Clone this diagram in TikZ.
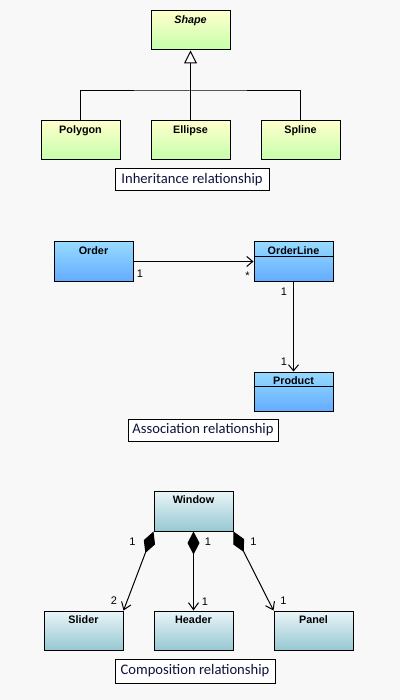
\documentclass[tikz,border=0pt]{standalone}
\usepackage{fontspec}
\setmainfont{Carlito}
\newfontfamily\umlfont{Liberation Sans}
\usetikzlibrary{arrows.meta,positioning}

\definecolor{pagebg}{RGB}{248,248,248}
\definecolor{greentop}{RGB}{255,255,204}
\definecolor{greenbot}{RGB}{196,255,170}
\definecolor{bluetop}{RGB}{150,218,255}
\definecolor{bluebot}{RGB}{100,172,255}
\definecolor{tealtop}{RGB}{234,245,248}
\definecolor{tealbot}{RGB}{150,200,210}
\definecolor{captext}{RGB}{15,20,60}

\tikzset{
  classbox/.style={draw, line width=1pt, minimum width=79pt, minimum height=39pt, inner sep=0pt},
  greenbox/.style={classbox, top color=greentop, bottom color=greenbot},
  bluebox/.style={classbox, top color=bluetop, bottom color=bluebot},
  tealbox/.style={classbox, top color=tealtop, bottom color=tealbot},
  classname/.style={font=\umlfont\bfseries\fontsize{10.8}{12}\selectfont, inner sep=0pt, anchor=north, yshift=-4.5pt},
  mult/.style={font=\umlfont\fontsize{11}{12}\selectfont, inner sep=0pt},
  caption/.style={draw, line width=0.8pt, fill=white, minimum height=22pt, inner sep=2pt, text=captext, font=\fontsize{14.6}{16}\selectfont},
  inherit/.style={line width=1pt, -{Triangle[length=13pt, width=13pt, fill=white]}},
  assoc/.style={line width=1pt, -{Straight Barb[length=6pt, width=10pt]}},
  compo/.style={line width=1pt, {Diamond[length=23pt, width=12pt]}-{Straight Barb[length=7pt, width=10pt]}}
}

\begin{document}
\begin{tikzpicture}[x=1pt, y=-1pt]
\fill[pagebg] (0,0) rectangle (400,700);
\useasboundingbox (0,0) rectangle (400,700);

% inheritance
\node[greenbox, name=shape] at (190.5,30.5) {};
\node[classname, name=shape_name] at (shape.north) {\itshape Shape};
\node[greenbox, name=polygon] at (80.5,140.5) {};
\node[classname, name=polygon_name] at (polygon.north) {Polygon};
\node[greenbox, name=ellipse] at (190.5,140.5) {};
\node[classname, name=ellipse_name] at (ellipse.north) {Ellipse};
\node[greenbox, name=spline] at (300.5,140.5) {};
\node[classname, name=spline_name] at (spline.north) {Spline};
\node[caption, minimum width=154pt, name=inherit_caption] at (192,179.5) {Inheritance relationship};

\coordinate (fork) at (190.5,91);
\draw[line width=1pt] (polygon.north) |- (fork) -| (spline.north);
\draw[inherit] (ellipse.north) -- (shape.south);

% association
\node[bluebox, name=order] at (93.5,261.5) {};
\node[classname, name=order_name] at (order.north) {Order};
\node[bluebox, name=orderline] at (293.5,261.5) {};
\node[classname, name=orderline_name] at (orderline.north) {OrderLine};
\draw[line width=1pt] ([yshift=-15pt]orderline.north west) -- ([yshift=-15pt]orderline.north east);
\node[bluebox, name=product] at (293.5,391.5) {};
\node[classname, name=product_name] at (product.north) {Product};
\draw[line width=1pt] ([yshift=-15pt]product.north west) -- ([yshift=-15pt]product.north east);
\node[caption, minimum width=150pt, name=assoc_caption] at (203,430) {Association relationship};

\draw[assoc] (order) -- (orderline);
\draw[assoc] (orderline) -- (product);
\node[mult, name=order_mult] at ([shift={(6.5,12.5)}]order.east) {1};
\node[mult, name=orderline_mult] at ([shift={(-6,14)}]orderline.west) {*};
\node[mult, name=orderline_mult2] at ([shift={(-9.5,10)}]orderline.south) {1};
\node[mult, name=product_mult] at ([shift={(-9.5,-10)}]product.north) {1};

% composition
\node[tealbox, name=window, minimum height=40pt] at (193.5,511) {};
\node[classname, name=window_name] at (window.north) {Window};
\node[tealbox, name=slider] at (83.5,630.5) {};
\node[classname, name=slider_name] at (slider.north) {Slider};
\node[tealbox, name=header] at (193.5,630.5) {};
\node[classname, name=header_name] at (header.north) {Header};
\node[tealbox, name=panel] at (313.5,630.5) {};
\node[classname, name=panel_name] at (panel.north) {Panel};
\node[caption, minimum width=160pt, minimum height=24pt, name=compo_caption] at (195,671) {Composition relationship};

\draw[compo] (window.south west) -- (slider.north east);
\draw[compo] (window.south) -- (header.north);
\draw[compo] (window.south east) -- (panel.north west);
\node[mult, name=slider_mult1] at ([shift={(-21,10)}]window.south west) {1};
\node[mult, name=header_mult1] at ([shift={(14.5,10)}]window.south) {1};
\node[mult, name=panel_mult1] at ([shift={(20,10)}]window.south east) {1};
\node[mult, name=slider_mult2] at ([shift={(-9.5,-9.5)}]slider.north east) {2};
\node[mult, name=header_mult2] at ([shift={(11.5,-9)}]header.north) {1};
\node[mult, name=panel_mult2] at ([shift={(10,-10)}]panel.north west) {1};
\end{tikzpicture}
\end{document}
